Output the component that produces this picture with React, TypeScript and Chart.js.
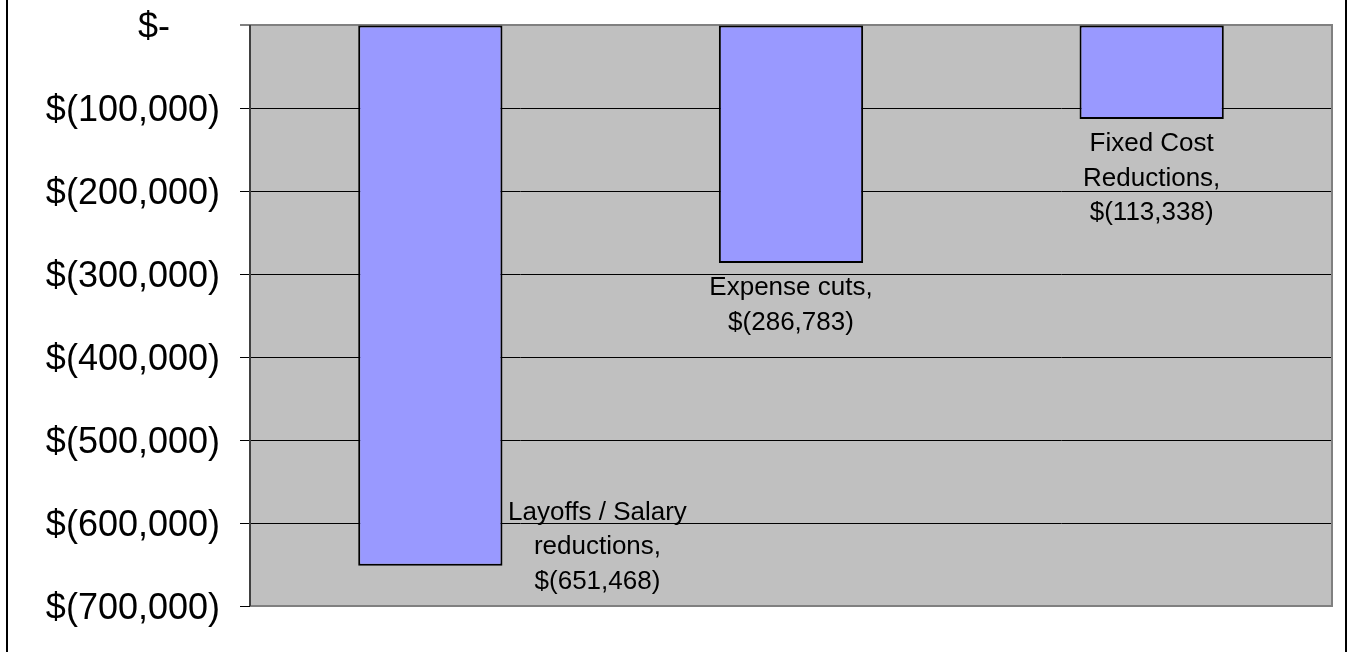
import React, { useEffect, useRef } from "react";
import { Chart, registerables } from "chart.js";

Chart.register(...registerables);

const categories = ["Layoffs / Salary reductions", "Expense cuts", "Fixed Cost Reductions"];
const categoryLines = [["Layoffs / Salary", "reductions,"], ["Expense cuts,"], ["Fixed Cost", "Reductions,"]];
const values = [-651468, -286783, -113338];
const yTicks = [0, -100000, -200000, -300000, -400000, -500000, -600000, -700000];
const labelPlacement = ["right", "below", "below"];

const FONT = '"Liberation Sans", Arial, Helvetica, sans-serif';

function money(v: number): string {
  if (v === 0) return "$-     ";
  const s = Math.abs(v).toLocaleString("en-US");
  return v < 0 ? "$(" + s + ")" : "$" + s + " ";
}

const plotPlugin = {
  id: "plotDeco",
  beforeDraw(chart: any) {
    const { ctx, chartArea: a } = chart;
    ctx.save();
    ctx.fillStyle = "#C0C0C0";
    ctx.fillRect(a.left, a.top, a.right - a.left, a.bottom - a.top);
    ctx.restore();
  },
  beforeDatasetsDraw(chart: any) {
    const { ctx, chartArea: a } = chart;
    ctx.save();
    ctx.strokeStyle = "#808080";
    ctx.lineWidth = 2;
    ctx.beginPath();
    ctx.moveTo(a.left - 10, a.top);
    ctx.lineTo(a.right, a.top);
    ctx.lineTo(a.right, a.bottom);
    ctx.lineTo(a.left, a.bottom);
    ctx.stroke();
    ctx.strokeStyle = "#404040";
    ctx.beginPath();
    ctx.moveTo(a.left, a.top);
    ctx.lineTo(a.left, a.bottom);
    ctx.stroke();
    ctx.restore();
  },
  afterDatasetsDraw(chart: any) {
    const { ctx } = chart;
    const meta = chart.getDatasetMeta(0);
    ctx.save();
    ctx.fillStyle = "#000";
    ctx.font = "26px " + FONT;
    ctx.textAlign = "center";
    ctx.textBaseline = "alphabetic";
    const lh = 34.5;
    meta.data.forEach((bar: any, i: number) => {
      const lines = [...categoryLines[i], money(values[i])];
      let cx: number, y0: number;
      if (labelPlacement[i] === "right") {
        cx = bar.x + bar.width / 2 + 95;
        y0 = bar.y + 23 - lh * (lines.length - 1);
      } else {
        cx = bar.x;
        y0 = bar.y + 32;
      }
      lines.forEach((t, k) => ctx.fillText(t, cx, y0 + k * lh));
    });
    ctx.restore();
  },
};

export default function App() {
  const ref = useRef<HTMLCanvasElement>(null);
  useEffect(() => {
    if (!ref.current) return;
    Chart.defaults.font.family = FONT;
    const chart = new Chart(ref.current, {
      type: "bar",
      data: {
        labels: categories,
        datasets: [
          {
            data: values,
            backgroundColor: "#9999FF",
            borderColor: "#000000",
            borderWidth: 2,
            borderSkipped: false,
            barPercentage: 0.4,
            categoryPercentage: 1,
          },
        ],
      },
      options: {
        animation: false,
        responsive: false,
        devicePixelRatio: 1,
        layout: { padding: { left: 0, right: 19, top: 25, bottom: 46 } },
        plugins: { legend: { display: false }, tooltip: { enabled: false } },
        scales: {
          x: { display: false },
          y: {
            min: -700000,
            max: 0,
            afterBuildTicks(scale: any) {
              scale.ticks = yTicks.map((v) => ({ value: v }));
            },
            afterFit(scale: any) {
              scale.width = 250;
              scale.paddingTop = 0;
              scale.paddingBottom = 0;
            },
            grid: {
              color: "#000000",
              lineWidth: 1,
              tickLength: 10,
              drawOnChartArea: true,
            },
            border: { display: false },
            ticks: {
              color: "#000000",
              font: { size: 36, family: FONT },
              padding: 20,
              labelOffset: 3,
              callback: (v: any) => money(Number(v)),
            },
          },
        },
      },
      plugins: [plotPlugin],
    });
    return () => chart.destroy();
  }, []);
  return (
    <div style={{ position: "absolute", left: 0, top: 0, width: 1351, height: 652, background: "#fff", overflow: "hidden" }}>
      <canvas ref={ref} width={1351} height={652} style={{ display: "block", width: 1351, height: 652 }} />
      <div style={{ position: "absolute", left: 6, top: 0, width: 2, height: 652, background: "#000" }} />
      <div style={{ position: "absolute", left: 1345, top: 0, width: 2, height: 652, background: "#000" }} />
    </div>
  );
}
